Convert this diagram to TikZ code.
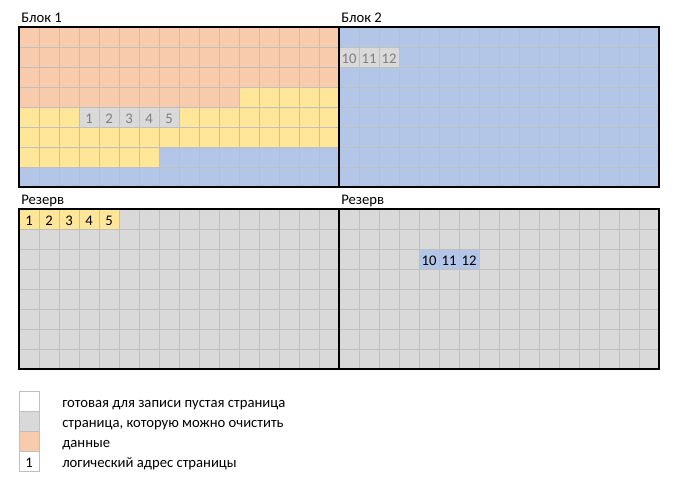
\documentclass[tikz,border=0pt]{standalone}
\usepackage{fontspec}
\setmainfont{Carlito}
\definecolor{peach}{HTML}{F8CBAD}
\definecolor{yel}{HTML}{FFE699}
\definecolor{blu}{HTML}{B4C6E7}
\definecolor{gry}{HTML}{D9D9D9}
\definecolor{gridc}{HTML}{BFBFBF}
\definecolor{numgray}{HTML}{7F7F7F}
\begin{document}
\begin{tikzpicture}[x=0.75pt,y=-0.75pt,
  gridline/.style={draw=gridc,line width=0.75pt},
  blockframe/.style={draw=black,line width=1.8pt},
  lbl/.style={anchor=base west,inner sep=0pt,font=\fontsize{11pt}{13pt}\selectfont},
  numg/.style={anchor=base,inner sep=0pt,text=numgray,font=\fontsize{11pt}{13pt}\selectfont},
  numb/.style={anchor=base,inner sep=0pt,text=black,font=\fontsize{11pt}{13pt}\selectfont},
  legbox/.style={draw=gridc,line width=0.75pt}]
\useasboundingbox (0,0) rectangle (680,480);
% Block 1 fills
\fill[peach] (19,27) -- (339,27) -- (339,87) -- (239,87) -- (239,107) -- (19,107) -- cycle;
\fill[yel] (239,87) -- (339,87) -- (339,147) -- (159,147) -- (159,167) -- (19,167) -- (19,107) -- (239,107) -- cycle;
\fill[blu] (159,147) -- (339,147) -- (339,187) -- (19,187) -- (19,167) -- (159,167) -- cycle;
\fill[gry] (79,107) rectangle (179,127);
% Block 2 fills
\fill[blu] (339,27) rectangle (659,187);
\fill[gry] (339,47) rectangle (399,67);
% Reserve fills
\fill[gry] (19,209) rectangle (659,369);
\fill[yel] (19,209) rectangle (119,229);
\fill[blu] (419,249) rectangle (479,269);
% grid lines
\foreach \i in {1,...,31} {
  \draw[gridline] ({19+20*\i},27) -- ({19+20*\i},187);
  \draw[gridline] ({19+20*\i},209) -- ({19+20*\i},369);
}
\foreach \j in {1,...,7} {
  \draw[gridline] (19,{27+20*\j}) -- (659,{27+20*\j});
  \draw[gridline] (19,{209+20*\j}) -- (659,{209+20*\j});
}
% frames
\draw[blockframe] (19,27) rectangle (339,187);
\draw[blockframe] (339,27) rectangle (659,187);
\draw[blockframe] (19,209) rectangle (339,369);
\draw[blockframe] (339,209) rectangle (659,369);
% labels
\node[lbl] (b1) at (21,22) {Блок 1};
\node[lbl] (b2) at (341,22) {Блок 2};
\node[lbl] (r1) at (21,204) {Резерв};
\node[lbl] (r2) at (341,204) {Резерв};
% numbers in block 1
\foreach \n [count=\k from 0] in {1,2,3,4,5}
  \node[numg] (a\n) at ({89+20*\k},123) {\n};
\foreach \n [count=\k from 0] in {10,11,12}
  \node[numg] (c\n) at ({349+20*\k},63) {\n};
\foreach \n [count=\k from 0] in {1,2,3,4,5}
  \node[numb] (ra\n) at ({29+20*\k},225) {\n};
\foreach \n [count=\k from 0] in {10,11,12}
  \node[numb] (rc\n) at ({429+20*\k},265) {\n};
% legend
\draw[legbox,fill=white] (19,391) rectangle (39,411);
\draw[legbox,fill=gry] (19,411) rectangle (39,431);
\draw[legbox,fill=peach] (19,431) rectangle (39,451);
\draw[legbox,fill=white] (19,451) rectangle (39,471);
\node[numb] (l1) at (29,467) {1};
\node[lbl] (t1) at (62,407) {готовая для записи пустая страница};
\node[lbl] (t2) at (62,427) {страница, которую можно очистить};
\node[lbl] (t3) at (62,447) {данные};
\node[lbl] (t4) at (62,467) {логический адрес страницы};
\end{tikzpicture}
\end{document}
